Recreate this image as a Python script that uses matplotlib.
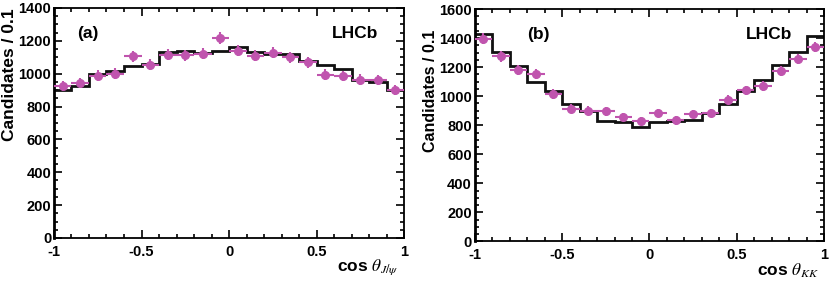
import numpy as np
import matplotlib
matplotlib.use('Agg')
import matplotlib.pyplot as plt
from matplotlib.ticker import MultipleLocator

plt.rcParams['font.family'] = ['Liberation Sans', 'DejaVu Sans']
plt.rcParams['mathtext.fontset'] = 'stix'

# bin edges and centres, cos theta in 20 bins
edges = np.linspace(-1, 1, 21)
centres = (edges[:-1] + edges[1:]) / 2

# panel (a): cos theta_J/psi
fit_a = [899, 927, 1000, 1014, 1045, 1059, 1130, 1140, 1126, 1136,
         1160, 1132, 1120, 1120, 1075, 1051, 1029, 964, 950, 899]
data_a = [923, 943, 988, 1000, 1106, 1055, 1116, 1112, 1120, 1217,
          1140, 1110, 1126, 1100, 1069, 994, 984, 964, 960, 899]

# panel (b): cos theta_KK
fit_b = [1430, 1304, 1210, 1095, 1038, 946, 895, 831, 822, 787,
         822, 826, 838, 884, 948, 1038, 1113, 1217, 1302, 1412]
data_b = [1396, 1274, 1178, 1155, 1015, 914, 900, 895, 856, 831,
          884, 833, 877, 884, 976, 1040, 1072, 1171, 1258, 1338]

pink = '#c054ae'

fig = plt.figure(figsize=(8.3, 2.84), dpi=100)
ax1 = fig.add_axes([0.065, 0.162, 0.422, 0.810])
ax2 = fig.add_axes([0.572, 0.150, 0.421, 0.818])


def draw(ax, fit, data, ymax, tag, tagx, lhcbx, xlab, ylab_top, ylab_size):
    fit = np.array(fit)
    data = np.array(data)
    ax.stairs(fit, edges, color='#111111', lw=2, baseline=None, zorder=2)
    ax.errorbar(centres, data, xerr=0.05, yerr=np.sqrt(data), fmt='o',
                color=pink, ms=5.5, elinewidth=1.5, capsize=0, zorder=3)
    ax.set_xlim(-1, 1)
    ax.set_ylim(0, ymax)
    ax.xaxis.set_major_locator(MultipleLocator(0.5))
    ax.xaxis.set_minor_locator(MultipleLocator(0.1))
    ax.yaxis.set_major_locator(MultipleLocator(200))
    ax.yaxis.set_minor_locator(MultipleLocator(50))
    ax.xaxis.set_major_formatter(plt.FuncFormatter(lambda v, p: '%g' % v))
    ax.tick_params(which='both', direction='in', top=True, right=True,
                   labelsize=10.5, width=1.2, pad=2)
    ax.tick_params(axis='x', which='both', pad=5)
    ax.tick_params(which='major', length=6)
    ax.tick_params(which='minor', length=3)
    for lab in ax.get_xticklabels() + ax.get_yticklabels():
        lab.set_fontweight('bold')
    for s in ax.spines.values():
        s.set_linewidth(1.3)
    ax.spines['left'].set_linewidth(2)
    # y title sits at the top of the axis, ROOT style
    ax.text(-0.128, ylab_top, 'Candidates / 0.1', transform=ax.transAxes,
            rotation=90, ha='center', va='top', fontsize=ylab_size,
            fontweight='bold')
    ax.text(tagx, 0.89, tag, transform=ax.transAxes, fontsize=12.5,
            fontweight='bold', va='center')
    ax.text(lhcbx, 0.89, 'LHCb', transform=ax.transAxes, fontsize=12.5,
            fontweight='bold', va='center', ha='right')
    ax.text(0.985, -0.085, xlab, transform=ax.transAxes, fontsize=12.5,
            fontweight='bold', ha='right', va='top')


draw(ax1, fit_a, data_a, 1400, '(a)', 0.066, 0.926,
     r'cos $\theta_{J/\psi}$', 1.0, 12.5)
draw(ax2, fit_b, data_b, 1600, '(b)', 0.15, 0.908,
     r'cos $\theta_{KK}$', 0.91, 11.5)

fig.savefig('out.png', dpi=100)
